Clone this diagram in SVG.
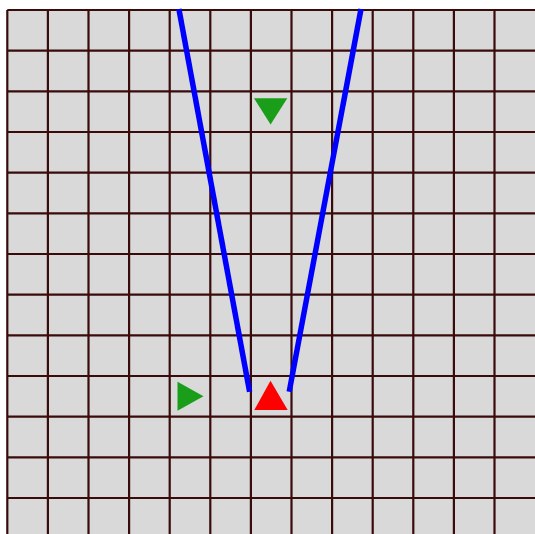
<svg xmlns="http://www.w3.org/2000/svg" width="535" height="534" viewBox="0 0 535 534">
  <style>
    .grid line { stroke: #3a0b0b; stroke-width: 2.2; }
    .wire { stroke: #0000ff; stroke-width: 5.5; fill: none; stroke-linecap: butt; }
    .green { fill: #1a9e1a; }
    .red { fill: #ff0000; }
  </style>
  <rect x="0" y="0" width="535" height="534" fill="#ffffff"/>
  <rect x="7.3" y="10" width="528" height="524" fill="#d9d9d9"/>
  <g id="grid" class="grid">
    <line x1="7.3" y1="10" x2="7.3" y2="534"/>
    <line x1="47.9" y1="10" x2="47.9" y2="534"/>
    <line x1="88.5" y1="10" x2="88.5" y2="534"/>
    <line x1="129.1" y1="10" x2="129.1" y2="534"/>
    <line x1="169.7" y1="10" x2="169.7" y2="534"/>
    <line x1="210.3" y1="10" x2="210.3" y2="534"/>
    <line x1="250.9" y1="10" x2="250.9" y2="534"/>
    <line x1="291.5" y1="10" x2="291.5" y2="534"/>
    <line x1="332.1" y1="10" x2="332.1" y2="534"/>
    <line x1="372.7" y1="10" x2="372.7" y2="534"/>
    <line x1="413.3" y1="10" x2="413.3" y2="534"/>
    <line x1="453.9" y1="10" x2="453.9" y2="534"/>
    <line x1="494.5" y1="10" x2="494.5" y2="534"/>
    <line x1="7.3" y1="10" x2="535" y2="10"/>
    <line x1="7.3" y1="50.7" x2="535" y2="50.7"/>
    <line x1="7.3" y1="91.3" x2="535" y2="91.3"/>
    <line x1="7.3" y1="132" x2="535" y2="132"/>
    <line x1="7.3" y1="172.7" x2="535" y2="172.7"/>
    <line x1="7.3" y1="213.3" x2="535" y2="213.3"/>
    <line x1="7.3" y1="254" x2="535" y2="254"/>
    <line x1="7.3" y1="294.7" x2="535" y2="294.7"/>
    <line x1="7.3" y1="335.3" x2="535" y2="335.3"/>
    <line x1="7.3" y1="376" x2="535" y2="376"/>
    <line x1="7.3" y1="416.7" x2="535" y2="416.7"/>
    <line x1="7.3" y1="457.3" x2="535" y2="457.3"/>
    <line x1="7.3" y1="498" x2="535" y2="498"/>
  </g>
  <g id="connectors">
    <line class="wire" x1="178.9" y1="9" x2="249.6" y2="391.7"/>
    <line class="wire" x1="361" y1="9" x2="289.2" y2="391.7"/>
  </g>
  <g id="marker-top">
    <polygon class="green" points="254,98.3 287.3,98.3 270.6,124.5"/>
  </g>
  <g id="marker-left">
    <polygon class="green" points="177.5,381.7 177.5,410.7 203.5,396.2"/>
  </g>
  <g id="marker-center">
    <polygon class="red" points="270.5,380.7 287.7,410 254.3,410"/>
  </g>
</svg>
